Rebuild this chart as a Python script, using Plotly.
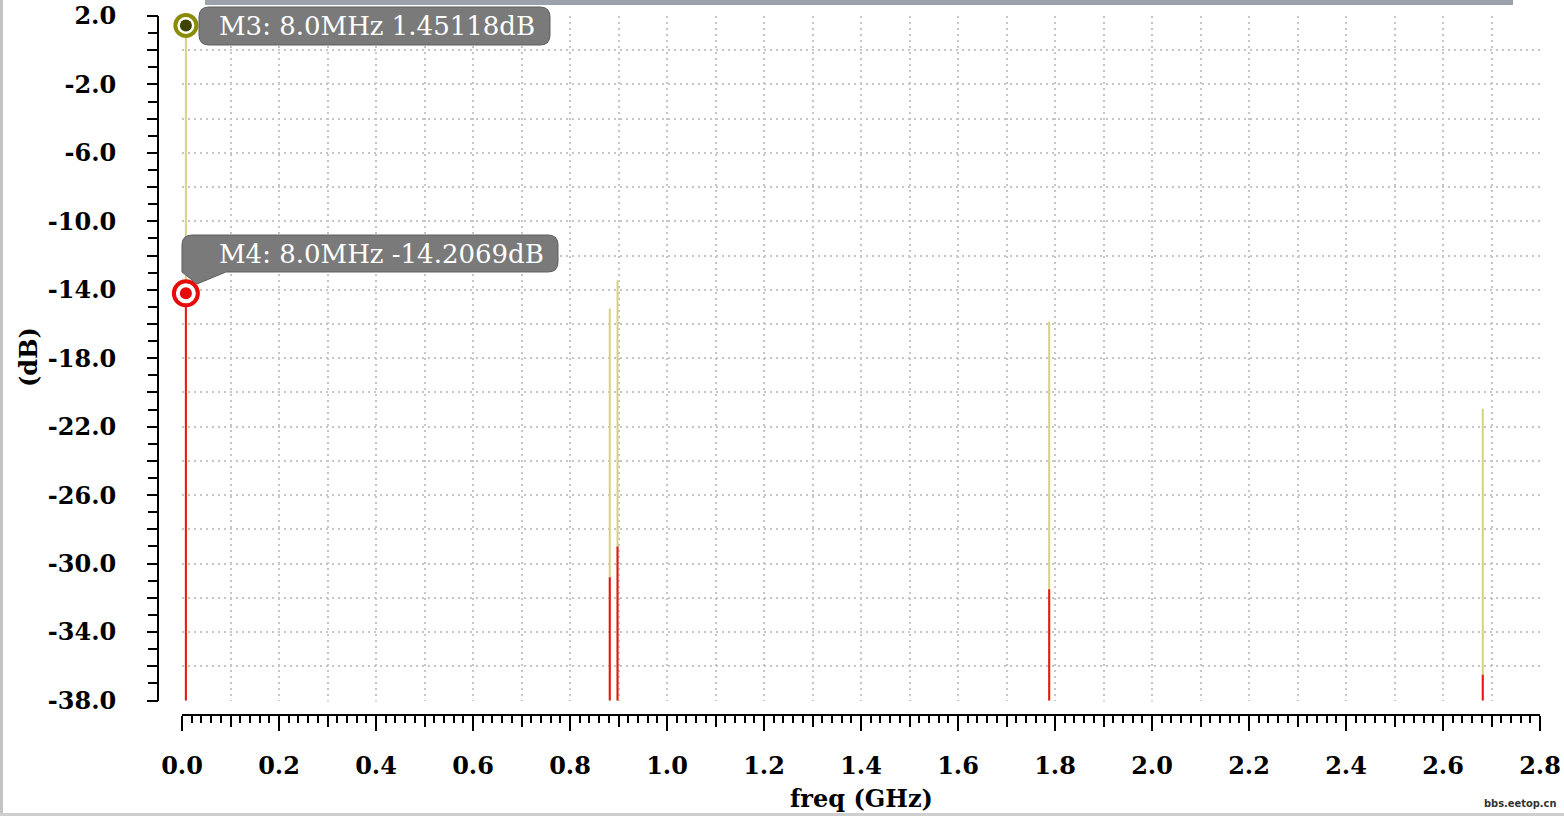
import plotly.graph_objects as go

# ---------------- data ----------------
FREQ_GHZ = [0.008, 0.882, 0.898, 1.788, 2.682]
TRACE_A_DB = [1.45118, -15.1, -13.45, -15.85, -20.95]     # khaki trace
TRACE_B_DB = [-14.2069, -30.8, -29.0, -31.5, -36.5]       # red trace
FLOOR_DB = -60.0                                            # below visible range

MARKER_NAMES = ["M3", "M4"]
MARKER_FREQ_GHZ = [0.008, 0.008]
MARKER_DB = [1.45118, -14.2069]

# x grid/ticks every 0.1 GHz, labels every 0.2 GHz
X_TICKS = [0.0, 0.1, 0.2, 0.3, 0.4, 0.5, 0.6, 0.7, 0.8, 0.9, 1.0, 1.1, 1.2, 1.3, 1.4,
           1.5, 1.6, 1.7, 1.8, 1.9, 2.0, 2.1, 2.2, 2.3, 2.4, 2.5, 2.6, 2.7, 2.8]
X_TICK_LABELS = ["0.0", "", "0.2", "", "0.4", "", "0.6", "", "0.8", "", "1.0", "",
                 "1.2", "", "1.4", "", "1.6", "", "1.8", "", "2.0", "", "2.2", "",
                 "2.4", "", "2.6", "", "2.8"]
# y grid/ticks every 2 dB, labels every 4 dB
Y_TICKS = [2, 0, -2, -4, -6, -8, -10, -12, -14, -16, -18, -20, -22, -24, -26, -28,
           -30, -32, -34, -36, -38]
Y_TICK_LABELS = ["2.0", "", "-2.0", "", "-6.0", "", "-10.0", "", "-14.0", "", "-18.0",
                 "", "-22.0", "", "-26.0", "", "-30.0", "", "-34.0", "", "-38.0"]

# ---------------- layout geometry (pixels) ----------------
W, H = 1564, 816
PL, PR, PT, PB = 158, 1540, 16, 715          # paper box in pixels
PW, PH = PR - PL, PB - PT


def px(xp):
    return (xp - PL) / PW


def py(yp):
    return (PB - yp) / PH


def spikes(freqs, vals):
    xs, ys = [], []
    for f, v in zip(freqs, vals):
        xs += [f, f, None]
        ys += [FLOOR_DB, v, None]
    return xs, ys


SERIF = "DejaVu Serif"
fig = go.Figure()

xa, ya = spikes(FREQ_GHZ, TRACE_A_DB)
fig.add_trace(go.Scatter(x=xa, y=ya, mode="lines", line=dict(color="#d6d27e", width=2),
                         showlegend=False, hoverinfo="skip"))
xb, yb = spikes(FREQ_GHZ, TRACE_B_DB)
fig.add_trace(go.Scatter(x=xb, y=yb, mode="lines", line=dict(color="#e8141c", width=2),
                         showlegend=False, hoverinfo="skip"))

# marker symbols (ring + centre dot)
RING_COLORS = ["#8a8c06", "#e60a0a"]
DOT_COLORS = ["#3e4300", "#e60a0a"]
RING_SIZES = [21, 24]
DOT_SIZES = [12, 12]
fig.add_trace(go.Scatter(x=MARKER_FREQ_GHZ, y=MARKER_DB, mode="markers", cliponaxis=False,
                         marker=dict(symbol="circle", size=RING_SIZES, color="white", opacity=1,
                                     line=dict(color=RING_COLORS, width=4)),
                         showlegend=False, hoverinfo="skip"))
fig.add_trace(go.Scatter(x=MARKER_FREQ_GHZ, y=MARKER_DB, mode="markers", cliponaxis=False,
                         marker=dict(symbol="circle", size=DOT_SIZES, color=DOT_COLORS,
                                     opacity=1, line=dict(width=0)),
                         showlegend=False, hoverinfo="skip"))

# dummy trace for overlay (tick-only) axes
fig.add_trace(go.Scatter(x=[None], y=[None], xaxis="x2", yaxis="y2", showlegend=False))

GRID = "#c6c6c6"
GDASH = "2px,4px"
x_dom = [px(182), 1.0]
y_dom = [py(700.5), 1.0]
tickfont = dict(family=SERIF, size=24, color="black", weight="bold")

fig.update_layout(
    width=W, height=H,
    margin=dict(l=PL, r=W - PR, t=PT, b=H - PB, pad=0, autoexpand=False),
    paper_bgcolor="white", plot_bgcolor="white",
    showlegend=False,
    xaxis=dict(domain=x_dom, range=[0, 2.8], anchor="free", position=0, automargin=False,
               showline=True, linecolor="black", linewidth=2,
               ticks="outside", ticklen=11, tickwidth=2, tickcolor="black",
               tickmode="array", tickvals=X_TICKS, ticktext=X_TICK_LABELS,
               tickfont=tickfont, ticklabelstandoff=18,
               showgrid=True, gridcolor=GRID, griddash=GDASH, gridwidth=1.5,
               zeroline=False),
    xaxis2=dict(overlaying="x", range=[0, 2.8], anchor="free", position=0, automargin=False,
                showline=False, ticks="outside", ticklen=15, tickwidth=2, tickcolor="black",
                tickmode="linear", tick0=0, dtick=0.2, showticklabels=False,
                minor=dict(ticks="outside", dtick=0.02, tick0=0, ticklen=7, tickwidth=1.5,
                           tickcolor="black", showgrid=False),
                showgrid=False, zeroline=False),
    yaxis=dict(domain=y_dom, range=[-38, 2], anchor="free", position=0, automargin=False,
               showline=True, linecolor="black", linewidth=2,
               ticks="outside", ticklen=10, tickwidth=2, tickcolor="black",
               tickmode="array", tickvals=Y_TICKS, ticktext=Y_TICK_LABELS,
               tickfont=tickfont, ticklabelstandoff=26,
               showgrid=True, gridcolor=GRID, griddash=GDASH, gridwidth=1.5,
               zeroline=False),
    yaxis2=dict(overlaying="y", range=[-38, 2], anchor="free", position=0, automargin=False,
                showline=False, ticks="outside", ticklen=10, tickwidth=2, tickcolor="black",
                tickmode="linear", tick0=0, dtick=1, showticklabels=False,
                showgrid=False, zeroline=False),
)


def rrect_path(x0, y0, x1, y1, r, tail=None):
    def P(a, b):
        return f"{px(a):.6f},{py(b):.6f}"
    path = f"M {P(x0 + r, y0)} L {P(x1 - r, y0)} Q {P(x1, y0)} {P(x1, y0 + r)} "
    path += f"L {P(x1, y1 - r)} Q {P(x1, y1)} {P(x1 - r, y1)} "
    if tail:
        (ta, tb), (tc, td) = tail
        path += f"L {P(ta, y1)} L {P(tc, td)} L {P(x0, y1)} "
    else:
        path += f"L {P(x0 + r, y1)} Q {P(x0, y1)} {P(x0, y1 - r)} "
    path += f"L {P(x0, y0 + r)} Q {P(x0, y0)} {P(x0 + r, y0)} Z"
    return path


BOX = "#7a7a7a"
shapes = [
    # top grey bar, frame strips
    dict(type="rect", xref="paper", yref="paper", x0=px(205), x1=px(1513), y0=py(5), y1=py(-2),
         fillcolor="#9ba2ab", line=dict(width=0), layer="above"),
    dict(type="rect", xref="paper", yref="paper", x0=px(-1), x1=px(3), y0=py(817), y1=py(-1),
         fillcolor="#c4c4c4", line=dict(width=0), layer="above"),
    dict(type="rect", xref="paper", yref="paper", x0=px(-1), x1=px(1565), y0=py(817), y1=py(813),
         fillcolor="#cfcfcf", line=dict(width=0), layer="above"),
    # marker label boxes (kept clear of the marker symbols)
    dict(type="path", xref="paper", yref="paper", path=rrect_path(199, 7, 550, 45, 10),
         fillcolor=BOX, line=dict(color="#5e5e5e", width=1), layer="above"),
    dict(type="path", xref="paper", yref="paper",
         path=rrect_path(182, 235, 558, 272, 10, tail=((226, 272), (197, 284))),
         fillcolor=BOX, line=dict(color="#5e5e5e", width=1), layer="above"),
]
fig.update_layout(shapes=shapes)

label_y = [26, 254]
annotations = []
for name, f, v, yy in zip(MARKER_NAMES, MARKER_FREQ_GHZ, MARKER_DB, label_y):
    txt = f"{name}: {f * 1000:.1f}MHz {v:g}dB"
    annotations.append(dict(xref="paper", yref="paper", x=px(217), y=py(yy), xanchor="left",
                            yanchor="middle", text=txt, showarrow=False,
                            font=dict(family=SERIF, size=26, color="white")))
annotations += [
    dict(xref="paper", yref="paper", x=px(28), y=py(357), text="(dB)", textangle=-90,
         showarrow=False, xanchor="center", yanchor="middle",
         font=dict(family=SERIF, size=24, color="black", weight="bold")),
    dict(xref="paper", yref="paper", x=px(862), y=py(798), text="freq (GHz)",
         showarrow=False, xanchor="center", yanchor="middle",
         font=dict(family=SERIF, size=24, color="black", weight="bold")),
    dict(xref="paper", yref="paper", x=px(1559), y=py(803), text="bbs.eetop.cn",
         showarrow=False, xanchor="right", yanchor="middle",
         font=dict(family="DejaVu Sans Condensed, DejaVu Sans", size=11, color="#333333",
                   weight="bold")),
]
fig.update_layout(annotations=annotations)

fig.write_html("out.html", config={"displayModeBar": False},
               post_script="document.body.style.margin='0';document.body.style.overflow='hidden';")
